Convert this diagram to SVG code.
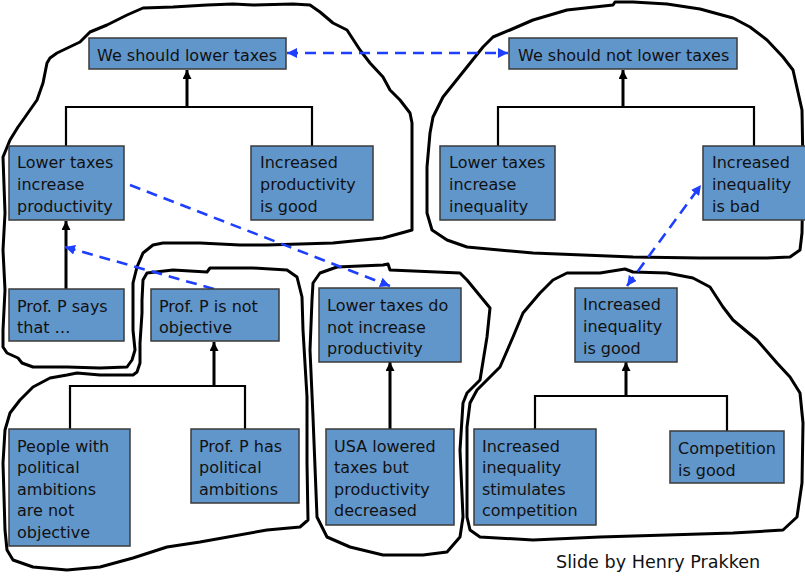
<svg xmlns="http://www.w3.org/2000/svg" width="805" height="578" viewBox="0 0 805 578">
<defs>
<style>
.blob{fill:none;stroke:#000;stroke-width:3;stroke-linejoin:round}
.box rect{fill:#6196CB;stroke:#3a3a3a;stroke-width:1.5}
.box text,.credit{font-family:"DejaVu Sans","Liberation Sans",sans-serif;font-size:16px;fill:#111}
.credit{font-size:17.6px}
.link{fill:none;stroke:#000;stroke-width:2.2}
.sup{fill:none;stroke:#000;stroke-width:3}
.att{fill:none;stroke:#1f3fff;stroke-width:2.6;stroke-dasharray:11 7}
</style>
<marker id="ah" viewBox="0 0 10 10" refX="10" refY="5" markerWidth="9" markerHeight="9" markerUnits="userSpaceOnUse" orient="auto"><path d="M0,0 L10,5 L0,10 z" fill="#000"/></marker>
<marker id="bh" viewBox="0 0 10 10" refX="10" refY="5" markerWidth="10" markerHeight="10" markerUnits="userSpaceOnUse" orient="auto-start-reverse"><path d="M0,0 L10,5 L0,10 z" fill="#1f3fff"/></marker>
</defs>
<rect width="805" height="578" fill="#fff"/>
<g id="blobs">
<path id="blob1" class="blob" d="M3,250 L5,213 L3,157 L10,140 L18,127 L23,120 L37,100 L43,83 L47,63 L50,58 L57,53 L80,42 L90,32 L107,25 L127,15 L143,8 L173,7 L207,5 L233,4 L253,5 L293,4 L310,5 L320,12 L333,23 L347,30 L360,50 L370,63 L383,77 L390,90 L400,100 L410,113 L412,123 L412,230 L405,232 L383,238 L333,243 L267,245 L240,245 L200,243 L163,243 L153,245 L143,253 L137,267 L133,283 L133,330 L135,350 L132,360 L127,367 L100,368 L67,367 L33,367 L22,363 L18,358 L7,353 L3,347 L3,330 L5,290 Z"/>
<path id="blob2" class="blob" d="M510,30 L533,20 L567,10 L613,5 L615,2 L633,2 L667,4 L700,9 L733,18 L750,27 L767,40 L783,57 L793,70 L802,110 L803,167 L802,233 L800,250 L790,257 L767,258 L700,258 L633,257 L533,253 L467,247 L447,240 L432,230 L427,213 L427,167 L430,133 L433,117 L443,97 L467,67 L483,47 L493,37 Z"/>
<path id="blob3" class="blob" d="M143,280 L147,273 L173,270 L207,272 L210,268 L253,268 L287,270 L297,277 L302,297 L303,330 L307,397 L307,463 L308,520 L300,527 L267,530 L200,542 L167,547 L133,558 L100,567 L67,570 L33,567 L13,560 L7,550 L5,530 L3,463 L5,430 L10,413 L20,400 L33,387 L50,378 L67,375 L77,373 L100,375 L133,375 L137,372 L140,363 L140,343 L142,313 L142,300 Z"/>
<path id="blob4" class="blob" d="M313,283 L320,273 L337,267 L383,265 L388,264 L390,270 L460,273 L467,280 L490,308 L487,337 L480,380 L467,393 L463,403 L460,450 L463,517 L460,537 L447,552 L423,555 L383,555 L350,547 L327,537 L317,517 L313,417 L310,350 L312,300 Z"/>
<path id="blob5" class="blob" d="M567,273 L553,280 L540,293 L523,313 L513,337 L500,367 L487,380 L477,390 L470,403 L467,427 L467,517 L470,530 L480,537 L533,540 L600,537 L667,535 L733,533 L783,530 L797,517 L802,483 L803,423 L800,393 L790,377 L777,363 L757,340 L733,320 L723,307 L710,287 L693,278 L667,273 L633,272 L625,269 L600,273 Z"/>
</g>
<g id="connectors">
<path class="link" d="M66,146 V107 H312 V146"/>
<path class="sup" d="M187,107 V70" marker-end="url(#ah)"/>
<path class="link" d="M498,146 V107 H754 V146"/>
<path class="sup" d="M623,107 V70" marker-end="url(#ah)"/>
<path class="sup" d="M66,289 V221" marker-end="url(#ah)"/>
<path class="link" d="M70,429 V386 H245 V429"/>
<path class="sup" d="M214,386 V342" marker-end="url(#ah)"/>
<path class="sup" d="M390,429 V362" marker-end="url(#ah)"/>
<path class="link" d="M535,429 V396 H727 V431"/>
<path class="sup" d="M626,396 V362" marker-end="url(#ah)"/>
<path class="att" d="M287,53 H508" marker-start="url(#bh)" marker-end="url(#bh)"/>
<path class="att" d="M130,185 L390,286" marker-end="url(#bh)"/>
<path class="att" d="M214,289 L65,247" marker-end="url(#bh)"/>
<path class="att" d="M627,286 L701,185" marker-start="url(#bh)" marker-end="url(#bh)"/>
</g>
<g id="n1" class="box"><rect x="89" y="38" width="197" height="31"/><text x="97" y="61">We should lower taxes</text></g>
<g id="n2" class="box"><rect x="509" y="38" width="228" height="31"/><text x="518" y="61">We should not lower taxes</text></g>
<g id="n3" class="box"><rect x="9" y="146" width="115" height="74"/><text x="17" y="168">Lower taxes</text><text x="17" y="190">increase</text><text x="17" y="212">productivity</text></g>
<g id="n4" class="box"><rect x="251" y="146" width="122" height="74"/><text x="260" y="168">Increased</text><text x="260" y="190">productivity</text><text x="260" y="212">is good</text></g>
<g id="n5" class="box"><rect x="440" y="146" width="115" height="74"/><text x="449" y="168">Lower taxes</text><text x="449" y="190">increase</text><text x="449" y="212">inequality</text></g>
<g id="n6" class="box"><rect x="703" y="146" width="104" height="74"/><text x="712" y="168">Increased</text><text x="712" y="190">inequality</text><text x="712" y="212">is bad</text></g>
<g id="n7" class="box"><rect x="9" y="289" width="115" height="52"/><text x="17" y="311.5">Prof. P says</text><text x="17" y="333">that …</text></g>
<g id="n8" class="box"><rect x="151" y="289" width="128" height="52"/><text x="159" y="311.5">Prof. P is not</text><text x="159" y="333">objective</text></g>
<g id="n9" class="box"><rect x="319" y="288" width="142" height="74"/><text x="327" y="311">Lower taxes do</text><text x="327" y="332.5">not increase</text><text x="327" y="354">productivity</text></g>
<g id="n10" class="box"><rect x="575" y="288" width="102" height="74"/><text x="583" y="310">Increased</text><text x="583" y="332">inequality</text><text x="583" y="354">is good</text></g>
<g id="n11" class="box"><rect x="9" y="429" width="121" height="117"/><text x="17" y="451.5">People with</text><text x="17" y="473">political</text><text x="17" y="494.5">ambitions</text><text x="17" y="516">are not</text><text x="17" y="537.5">objective</text></g>
<g id="n12" class="box"><rect x="191" y="429" width="108" height="74"/><text x="199" y="451.5">Prof. P has</text><text x="199" y="473">political</text><text x="199" y="494.5">ambitions</text></g>
<g id="n13" class="box"><rect x="326" y="429" width="128" height="96"/><text x="334" y="451.5">USA lowered</text><text x="334" y="473">taxes but</text><text x="334" y="494.5">productivity</text><text x="334" y="516">decreased</text></g>
<g id="n14" class="box"><rect x="474" y="429" width="122" height="96"/><text x="482" y="451.5">Increased</text><text x="482" y="473">inequality</text><text x="482" y="494.5">stimulates</text><text x="482" y="516">competition</text></g>
<g id="n15" class="box"><rect x="670" y="431" width="114" height="52"/><text x="678" y="454">Competition</text><text x="678" y="475.5">is good</text></g>
<text class="credit" x="556" y="568">Slide by Henry Prakken</text>
</svg>
